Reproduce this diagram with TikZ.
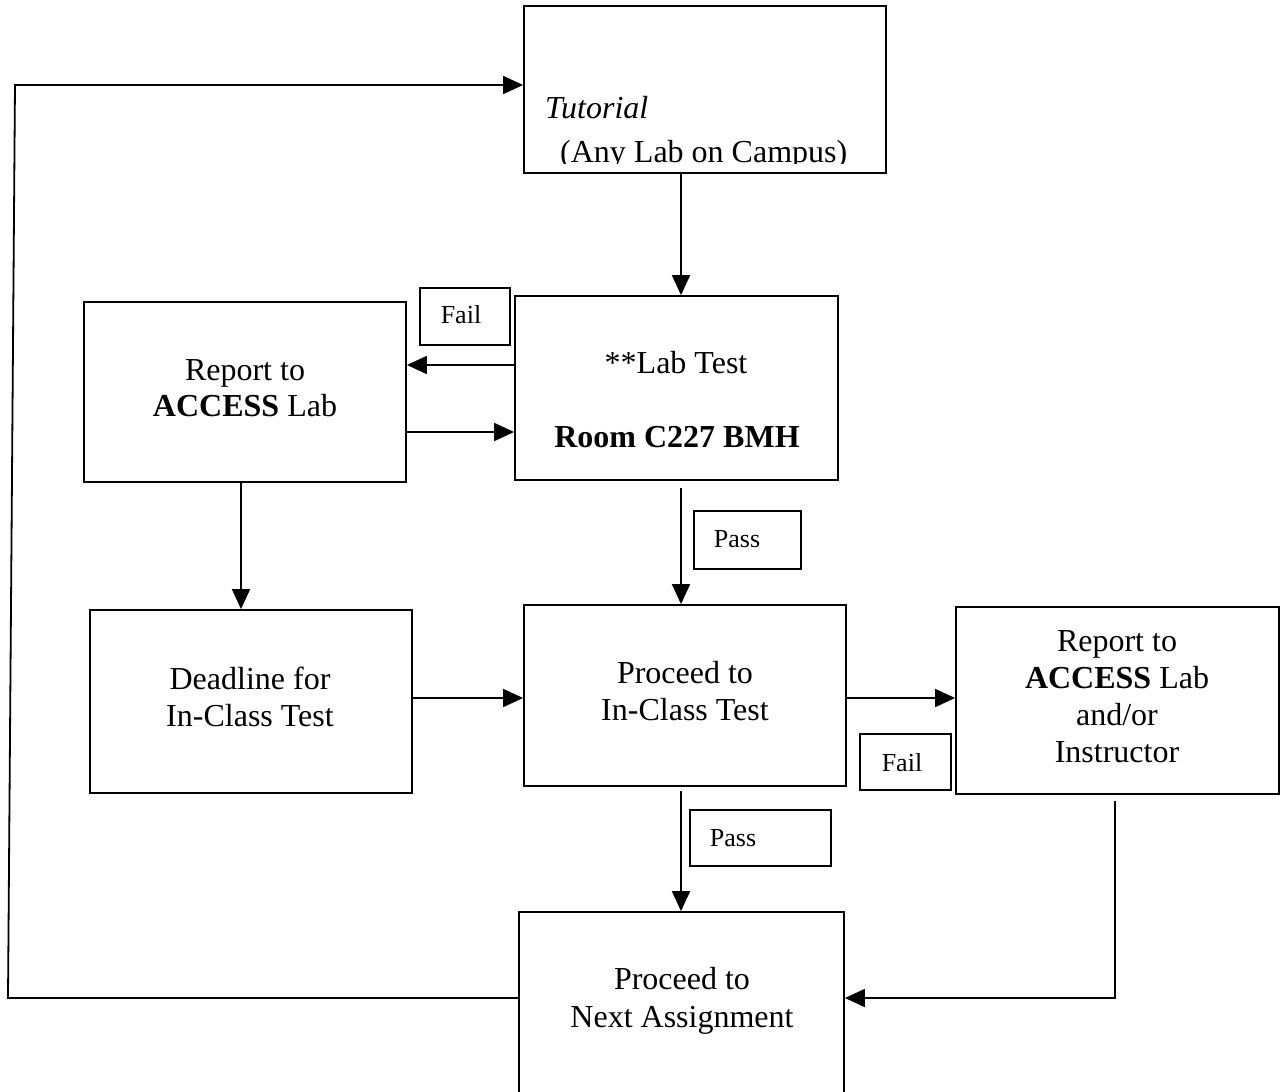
\documentclass[tikz,border=0pt]{standalone}
\usepackage{fontspec}
\setmainfont{Liberation Serif}
\usetikzlibrary{arrows.meta}
\begin{document}
\begin{tikzpicture}[x=1pt,y=-1pt,
  box/.style={draw,line width=1.8pt,inner sep=0pt,minimum width=#1},
  box/.default=100,
  txt/.style={anchor=base,inner sep=0pt,font=\fontsize{32}{37}\selectfont},
  lbl/.style={anchor=base,inner sep=0pt,font=\fontsize{26}{30}\selectfont},
  arr/.style={line width=1.8pt,-{Triangle[length=20pt,width=18pt]}},
  ln/.style={line width=1.8pt}]
\useasboundingbox (0,0) rectangle (1280,1092);
% boxes
\node[box=362,minimum height=167] (tut) at (705,89.5) {};
\node[box=323,minimum height=184] (lab) at (676.5,388) {};
\node[box=90,minimum height=57] (fail1) at (465,316.5) {};
\node[box=322,minimum height=180] (rep1) at (245,392) {};
\node[box=322,minimum height=183] (dead) at (251,701.5) {};
\node[box=107,minimum height=58] (pass1) at (747.5,540) {};
\node[box=322,minimum height=181] (inclass) at (685,695.5) {};
\node[box=323,minimum height=187] (rep2) at (1117.5,700.5) {};
\node[box=91,minimum height=56] (fail2) at (905.5,762) {};
\node[box=141,minimum height=56] (pass2) at (760.5,838) {};
\node[box=325,minimum height=198] (next) at (681.5,1011) {};
% texts
\begin{scope}
\clip (524,6) rectangle (886,163.5);
\node[txt,anchor=base west] (t1) at (545,118) {\itshape Tutorial};
\node[txt,anchor=base west] (t2) at (560,162) {(Any Lab on Campus)};
\end{scope}
\node[txt] (l1) at (676,373) {**Lab Test};
\node[txt] (l2) at (677,447) {\bfseries Room C227 BMH};
\node[lbl] (f1) at (461,323) {Fail};
\node[txt] (r1a) at (245,380) {Report to};
\node[txt] (r1b) at (245,416) {\textbf{ACCESS} Lab};
\node[txt] (d1) at (250,689) {Deadline for};
\node[txt] (d2) at (250,726) {In-Class Test};
\node[lbl] (p1) at (737,547) {Pass};
\node[txt] (i1) at (685,683) {Proceed to};
\node[txt] (i2) at (685,720) {In-Class Test};
\node[txt] (r2a) at (1117,651) {Report to};
\node[txt] (r2b) at (1117,688) {\textbf{ACCESS} Lab};
\node[txt] (r2c) at (1117,725) {and/or};
\node[txt] (r2d) at (1117,762) {Instructor};
\node[lbl] (f2) at (902,771) {Fail};
\node[lbl] (p2) at (733,846) {Pass};
\node[txt] (n1) at (682,989) {Proceed to};
\node[txt] (n2) at (682,1027) {Next Assignment};
% connectors
\draw[arr] (tut.south -| 681,0) -- (lab.north -| 681,0);
\draw[arr] (lab.west |- 0,365) -- (rep1.east |- 0,365);
\draw[arr] (rep1.east |- 0,432) -- (lab.west |- 0,432);
\draw[arr] (rep1.south -| 241,0) -- (dead.north -| 241,0);
\draw[arr,shorten <=7pt] (lab.south -| 681,0) -- (inclass.north -| 681,0);
\draw[arr] (dead.east |- 0,698) -- (inclass.west |- 0,698);
\draw[arr] (inclass.east |- 0,698) -- (rep2.west |- 0,698);
\draw[arr,shorten <=4pt] (inclass.south -| 681,0) -- (next.north -| 681,0);
\coordinate (c1) at (1115,998);
\draw[arr,shorten <=6pt] (rep2.south -| c1) -- (c1) -- (next.east |- c1);
\coordinate (c2) at (8,998);
\coordinate (c3) at (15,85);
\draw[arr] (next.west |- c2) -- (c2) -- (c3) -- (tut.west |- c3);
\end{tikzpicture}
\end{document}
